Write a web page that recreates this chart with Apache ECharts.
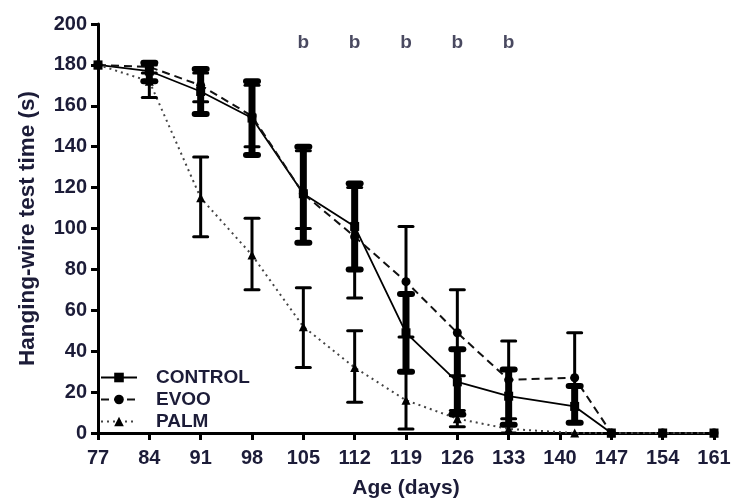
<!DOCTYPE html>
<html><head><meta charset="utf-8">
<script src="https://cdn.jsdelivr.net/npm/echarts@6/dist/echarts.min.js"></script>
<style>html,body{margin:0;padding:0;background:#fff}#c{width:736px;height:504px}</style>
</head><body><div id="c"></div>
<script>
const xTicks = [77,84,91,98,105,112,119,126,133,140,147,154,161];
const days = [77,84,91,98,105,112,119,126,133,142,147,154,161];
const controlVals = [180,177,167,154,117,101,49,25,18,13,0,0,0];
const evooVals    = [180,179,170,155,117,96,74,49,26,27,0,0,0];
const palmVals    = [180,172,115,87,52,32,16,7,2,0,0,0,0];
const controlLow  = [180,172,156,136,93,80,30,9,4,5,0,0,0];
const controlHigh = [180,181,178,172,140,122,68,41,31,23,0,0,0];
const evooLow     = [180,176,162,140,100,66,47,28,7,5,0,0,0];
const evooHigh    = [180,181,176,170,138,120,101,70,45,49,0,0,0];
const palmLow     = [180,164,96,70,32,15,2,3,0,0,0,0,0];
const palmHigh    = [180,180,135,105,71,50,30,11,4,0,0,0,0];
const sigDays = [105,112,119,126,133];
const sigLevel = 191;
const sigLabel = 'b';

const txt = '#1c1c38';
const font = '"Liberation Sans", Arial, sans-serif';

function pts(vals){ return days.map((d,i)=>[d, vals[i]]); }
function errs(lo,hi){ return days.map((d,i)=>[d, lo[i], hi[i]]).filter(r=>r[2]-r[1]>0.5); }
function errSeries(name, data, w, cap, capW){
  return {
    type:'custom', name:name, data:data, z:5,
    encode:{x:0,y:[1,2]},
    renderItem:function(params, api){
      const x=api.value(0), lo=api.value(1), hi=api.value(2);
      const a=api.coord([x,hi]), b=api.coord([x,lo]);
      const st={stroke:'#000', lineWidth:w, lineCap:'butt'};
      const cs={stroke:'#000', lineWidth:capW, lineCap:'round'};
      return {type:'group', children:[
        {type:'line', shape:{x1:a[0],y1:a[1],x2:b[0],y2:b[1]}, style:st},
        {type:'line', shape:{x1:a[0]-cap,y1:a[1],x2:a[0]+cap,y2:a[1]}, style:cs},
        {type:'line', shape:{x1:b[0]-cap,y1:b[1],x2:b[0]+cap,y2:b[1]}, style:cs}
      ]};
    }
  };
}

const chart = echarts.init(document.getElementById('c'), null, {renderer:'canvas'});
chart.setOption({
  animation:false,
  backgroundColor:'#fff',
  grid:{left:98, right:22, top:24, bottom:70, containLabel:false},
  xAxis:{
    type:'value', min:77, max:161, interval:7,
    name:'Age (days)', nameLocation:'middle', nameGap:45,
    nameTextStyle:{color:txt, fontSize:21, fontWeight:'bold', fontFamily:font},
    axisLine:{show:true, onZero:false, lineStyle:{color:'#000', width:3}},
    axisTick:{show:true, length:7, lineStyle:{color:'#000', width:3}},
    axisLabel:{color:txt, fontSize:20, fontWeight:'bold', fontFamily:font, margin:15,
      formatter:function(v){ return xTicks.indexOf(v)>=0 ? String(v) : ''; }},
    splitLine:{show:false}
  },
  yAxis:{
    type:'value', min:0, max:200, interval:20,
    name:'Hanging-wire test time (s)', nameLocation:'middle', nameGap:59,
    nameTextStyle:{color:txt, fontSize:22.5, fontWeight:'bold', fontFamily:font},
    axisLine:{show:true, lineStyle:{color:'#000', width:3}},
    axisTick:{show:true, length:7, lineStyle:{color:'#000', width:3}},
    axisLabel:{color:txt, fontSize:20, fontWeight:'bold', fontFamily:font, margin:11},
    splitLine:{show:false}
  },
  legend:{
    orient:'vertical', left:100, top:368, padding:0, itemGap:3, itemWidth:36, itemHeight:12,
    data:['CONTROL','EVOO','PALM'],
    textStyle:{color:txt, fontSize:19, fontWeight:'bold', fontFamily:font, padding:[0,0,0,14]}
  },
  series:[
    {name:'CONTROL', type:'line', data:pts(controlVals), symbol:'rect', symbolSize:9,
      lineStyle:{color:'#000', width:1.8, type:'solid'}, itemStyle:{color:'#000'}, z:3},
    {name:'EVOO', type:'line', data:pts(evooVals), symbol:'circle', symbolSize:9,
      lineStyle:{color:'#111', width:2, type:[8,5]}, itemStyle:{color:'#000'}, z:3},
    {name:'PALM', type:'line', data:pts(palmVals), symbol:'triangle', symbolSize:9,
      lineStyle:{color:'#444', width:2, type:[2,4]}, itemStyle:{color:'#000'}, z:3},
    errSeries('errPalm', errs(palmLow, palmHigh), 3, 7, 3),
    errSeries('errEvoo', errs(evooLow, evooHigh), 3, 7, 3),
    errSeries('errControl', errs(controlLow, controlHigh), 7, 6, 6),
    {name:'sig', type:'scatter', data:sigDays.map(d=>[d, sigLevel]), symbolSize:0, silent:true,
      label:{show:true, position:'inside', formatter:sigLabel, color:txt, fontSize:19, fontWeight:'bold', fontFamily:font}}
  ]
});
</script></body></html>
